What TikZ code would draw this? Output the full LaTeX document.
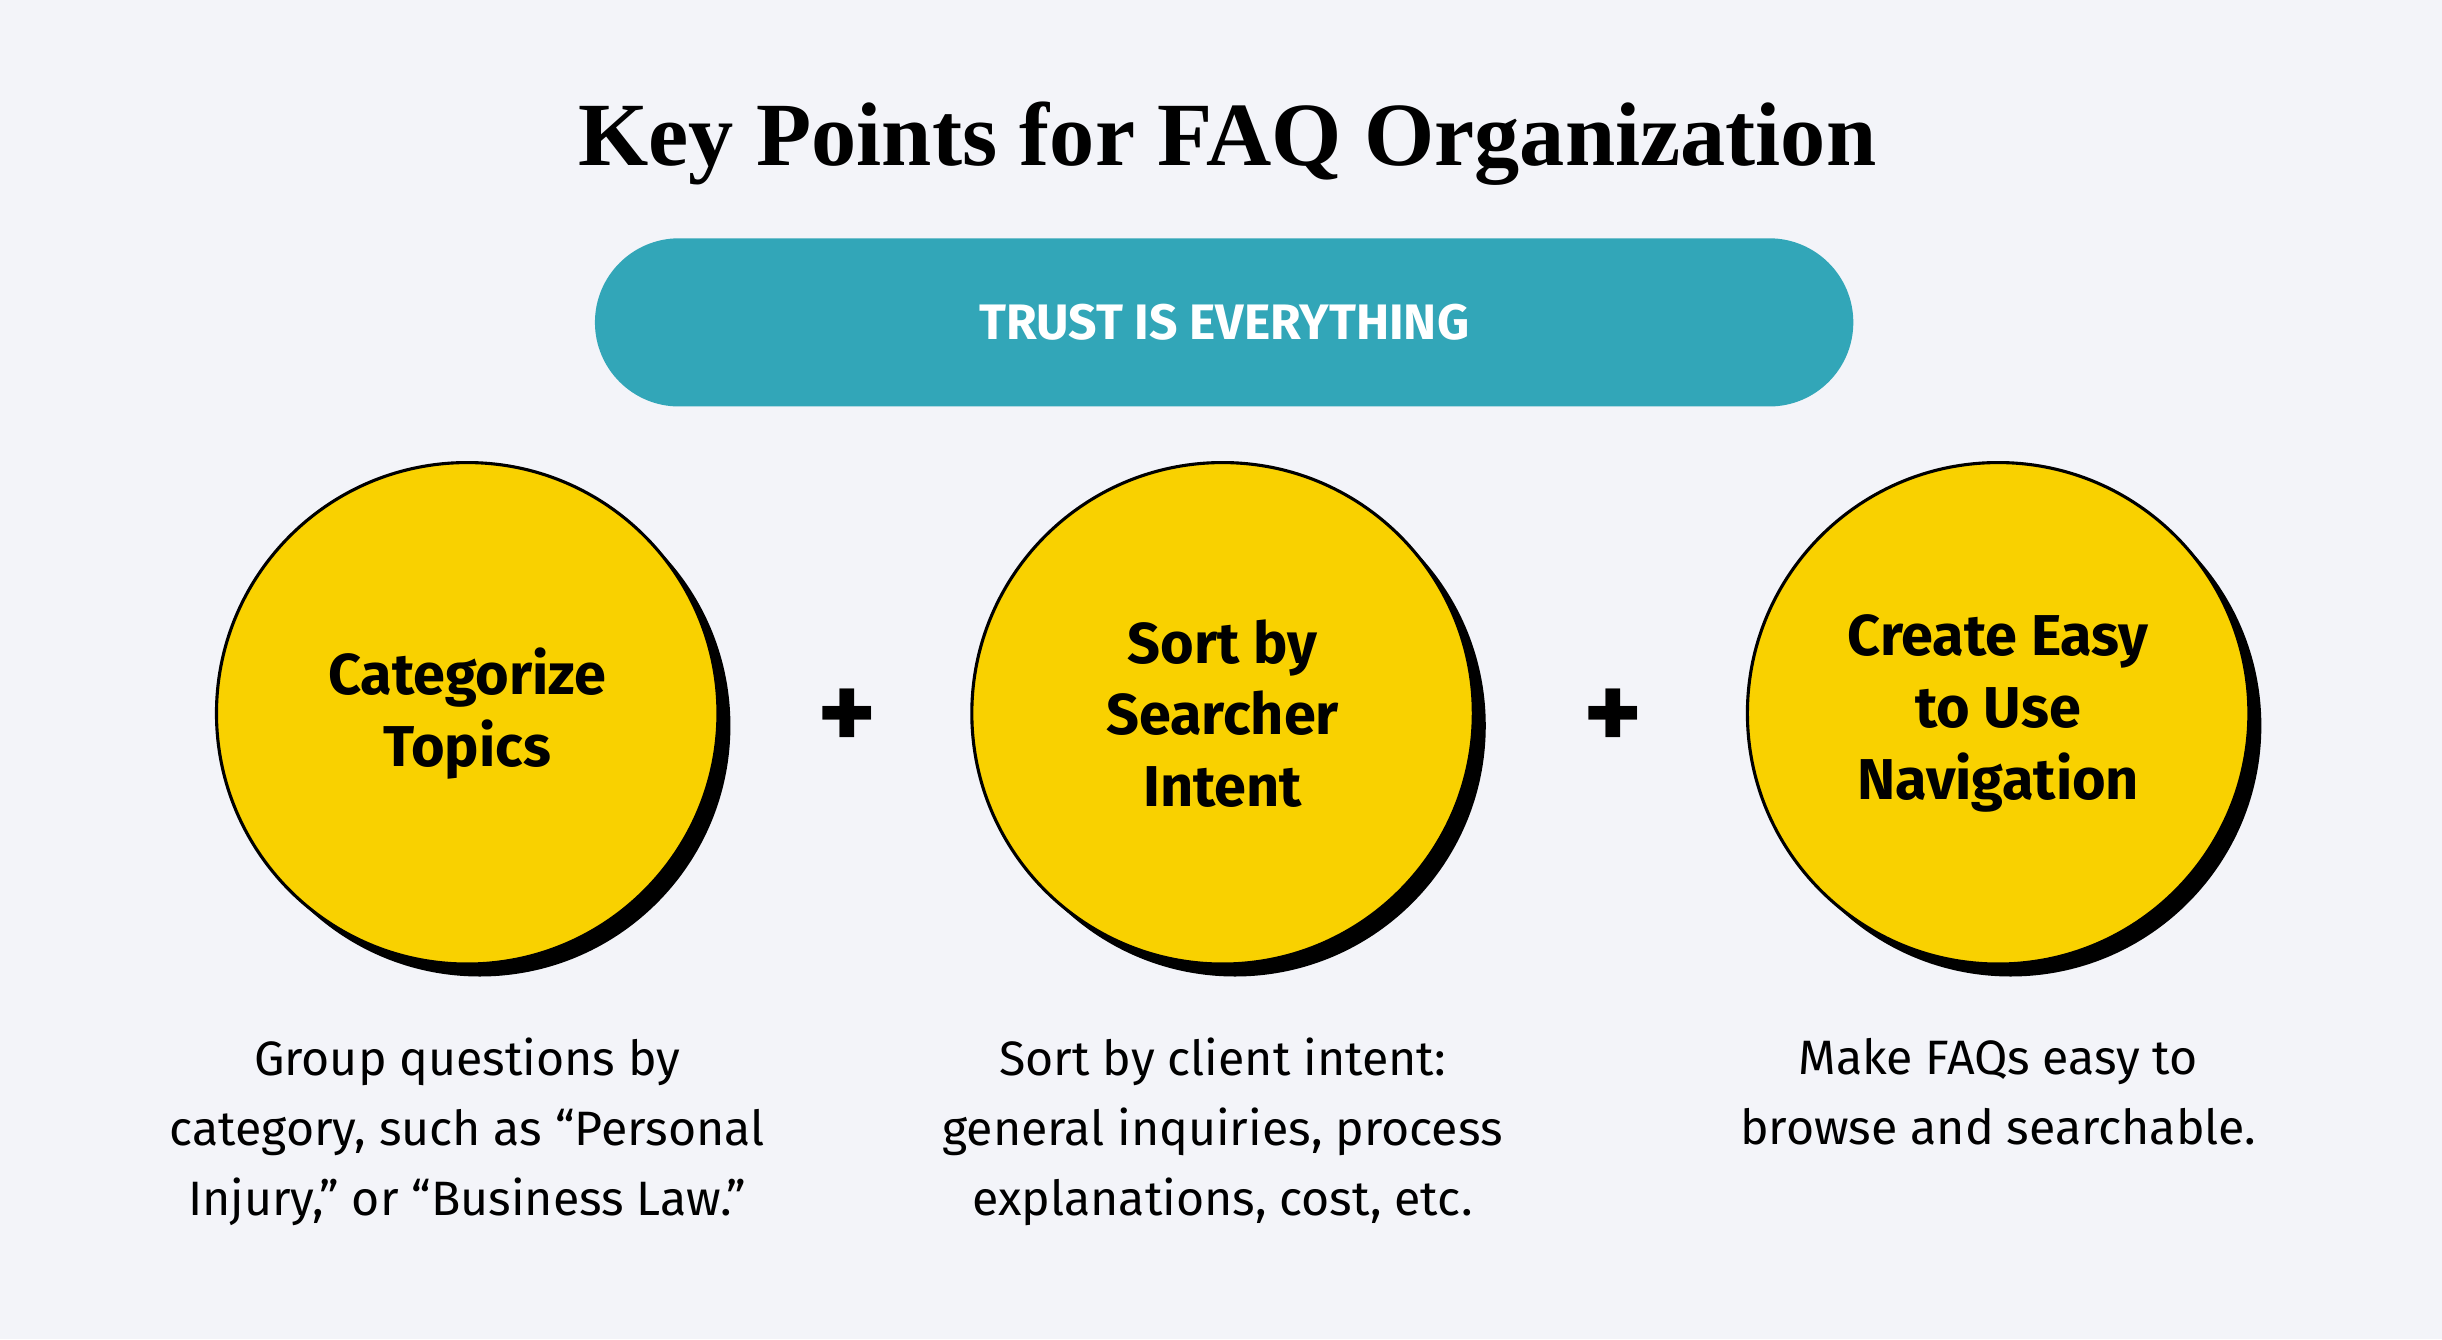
\documentclass[tikz,border=0pt]{standalone}
\usepackage{fontspec}
\setmainfont{Fira Sans}
\newfontfamily\titlefont{Liberation Serif}
\definecolor{bg}{HTML}{F3F4F9}
\definecolor{teal}{HTML}{32A6B8}
\definecolor{yel}{HTML}{F9D100}
\begin{document}
\begin{tikzpicture}[x=1pt,y=-1pt,
  circ/.style={circle,minimum size=322pt,fill=yel,draw=black,line width=2pt,inner sep=0pt,align=center,font=\fontsize{37}{46}\selectfont\bfseries},
  shadow/.style={circle,minimum size=322pt,fill=black,inner sep=0pt},
  desc/.style={align=center,font=\fontsize{31}{45}\selectfont},
  plus/.style={font=\fontsize{72}{72}\selectfont\bfseries}]
\fill[bg] (0,0) rectangle (1568,860);
\useasboundingbox (0,0) rectangle (1568,860);
\node[font=\titlefont\fontsize{58}{62}\selectfont\bfseries] (title) at (788,92) {Key Points for FAQ Organization};
\node[fill=teal,rounded corners=54pt,minimum width=808pt,minimum height=108pt,text=white,font=\fontsize{32}{36}\selectfont\bfseries] (pill) at (786,207) {TRUST IS EVERYTHING};
\node[shadow] (s1) at (308,466) {};
\node[shadow] (s2) at (793,466) {};
\node[shadow] (s3) at (1291,466) {};
\node[circ] (c1) at (300,458) {Categorize\\Topics};
\node[circ] (c2) at (785,458) {Sort by\\Searcher\\Intent};
\node[circ] (c3) at (1283,458) {Create Easy\\to Use\\Navigation};
\node[plus] (p1) at (544,462) {+};
\node[plus] (p2) at (1036,462) {+};
\node[desc,anchor=north] (d1) at (300,663) {Group questions by\\category, such as “Personal\\Injury,” or “Business Law.”};
\node[desc,anchor=north] (d2) at (785,663) {Sort by client intent:\\general inquiries, process\\explanations, cost, etc.};
\node[desc,anchor=north] (d3) at (1283,663) {Make FAQs easy to\\browse and searchable.};
\end{tikzpicture}
\end{document}
